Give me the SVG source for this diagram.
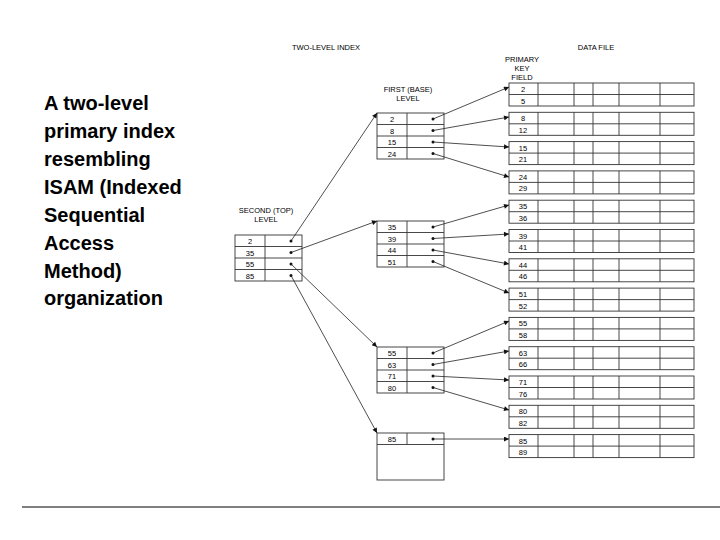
<svg xmlns="http://www.w3.org/2000/svg" xmlns:xlink="http://www.w3.org/1999/xlink" width="720" height="540" viewBox="0 0 720 540">
<style>
.t{font-family:"Liberation Sans",Arial,sans-serif;font-size:7.5px;fill:#000;text-anchor:middle}
.big{font-family:"Liberation Sans",Arial,sans-serif;font-size:20px;font-weight:bold;fill:#000}
.b{fill:#fff;stroke:#333;stroke-width:0.9}
.l{stroke:#333;stroke-width:0.9}
.c line{stroke:#222;stroke-width:0.8}
</style>
<defs>
<marker id="a" viewBox="0 0 10 10" refX="10" refY="5" markerWidth="7" markerHeight="5" orient="auto" markerUnits="userSpaceOnUse"><path d="M0,0L10,5L0,10z" fill="#111"/></marker>
<g id="db">
<rect class="b" x="509" y="0" width="185" height="23"/>
<line class="l" x1="509" y1="11.5" x2="694" y2="11.5"/>
<line class="l" x1="538" y1="0" x2="538" y2="23"/>
<line class="l" x1="574" y1="0" x2="574" y2="23"/>
<line class="l" x1="593" y1="0" x2="593" y2="23"/>
<line class="l" x1="619" y1="0" x2="619" y2="23"/>
<line class="l" x1="660" y1="0" x2="660" y2="23"/>
</g>
<g id="ib">
<rect class="b" x="0" y="0" width="67" height="46"/>
<line class="l" x1="0" y1="11.5" x2="67" y2="11.5"/>
<line class="l" x1="0" y1="23" x2="67" y2="23"/>
<line class="l" x1="0" y1="34.5" x2="67" y2="34.5"/>
<line class="l" x1="30" y1="0" x2="30" y2="46"/>
</g>
</defs>
<rect width="720" height="540" fill="#fff"/>
<g id="caption">
<text class="big" x="44" y="110">A two-level</text>
<text class="big" x="44" y="138">primary index</text>
<text class="big" x="44" y="166">resembling</text>
<text class="big" x="44" y="194">ISAM (Indexed</text>
<text class="big" x="44" y="222">Sequential</text>
<text class="big" x="44" y="250">Access</text>
<text class="big" x="44" y="278">Method)</text>
<text class="big" x="44" y="305">organization</text>
</g>
<line x1="22" y1="507" x2="720" y2="507" stroke="#000" stroke-width="1"/>
<g id="labels">
<text class="t" x="326" y="50">TWO-LEVEL INDEX</text>
<text class="t" x="596" y="50">DATA FILE</text>
<text class="t" x="522" y="62">PRIMARY</text>
<text class="t" x="522" y="71">KEY</text>
<text class="t" x="522" y="80">FIELD</text>
<text class="t" x="408" y="92">FIRST (BASE)</text>
<text class="t" x="408" y="101">LEVEL</text>
<text class="t" x="266" y="213">SECOND (TOP)</text>
<text class="t" x="266" y="222">LEVEL</text>
</g>
<g id="datafile" class="t">
<use xlink:href="#db" y="83"/><text x="523" y="92">2</text><text x="523" y="103.5">5</text>
<use xlink:href="#db" y="112.3"/><text x="523" y="121.3">8</text><text x="523" y="132.8">12</text>
<use xlink:href="#db" y="141.6"/><text x="523" y="150.6">15</text><text x="523" y="162.1">21</text>
<use xlink:href="#db" y="170.9"/><text x="523" y="179.9">24</text><text x="523" y="191.4">29</text>
<use xlink:href="#db" y="200.2"/><text x="523" y="209.2">35</text><text x="523" y="220.7">36</text>
<use xlink:href="#db" y="229.5"/><text x="523" y="238.5">39</text><text x="523" y="250">41</text>
<use xlink:href="#db" y="258.8"/><text x="523" y="267.8">44</text><text x="523" y="279.3">46</text>
<use xlink:href="#db" y="288.1"/><text x="523" y="297.1">51</text><text x="523" y="308.6">52</text>
<use xlink:href="#db" y="317.4"/><text x="523" y="326.4">55</text><text x="523" y="337.9">58</text>
<use xlink:href="#db" y="346.7"/><text x="523" y="355.7">63</text><text x="523" y="367.2">66</text>
<use xlink:href="#db" y="376"/><text x="523" y="385">71</text><text x="523" y="396.5">76</text>
<use xlink:href="#db" y="405.3"/><text x="523" y="414.3">80</text><text x="523" y="425.8">82</text>
<use xlink:href="#db" y="434.6"/><text x="523" y="443.6">85</text><text x="523" y="455.1">89</text>
</g>
<g id="second" class="t">
<use xlink:href="#ib" x="235" y="235"/>
<text x="250" y="244">2</text><text x="250" y="255.5">35</text><text x="250" y="267">55</text><text x="250" y="278.5">85</text>
</g>
<g id="firstA" class="t">
<use xlink:href="#ib" x="377" y="113"/>
<text x="392" y="122">2</text><text x="392" y="133.5">8</text><text x="392" y="145">15</text><text x="392" y="156.5">24</text>
</g>
<g id="firstB" class="t">
<use xlink:href="#ib" x="377" y="221"/>
<text x="392" y="230">35</text><text x="392" y="241.5">39</text><text x="392" y="253">44</text><text x="392" y="264.5">51</text>
</g>
<g id="firstC" class="t">
<use xlink:href="#ib" x="377" y="347"/>
<text x="392" y="356">55</text><text x="392" y="367.5">63</text><text x="392" y="379">71</text><text x="392" y="390.5">80</text>
</g>
<g id="firstD" class="t">
<rect class="b" x="377" y="433" width="67" height="47"/>
<line class="l" x1="377" y1="444.5" x2="444" y2="444.5"/>
<line class="l" x1="407" y1="433" x2="407" y2="444.5"/>
<text x="392" y="442">85</text>
</g>
<g id="connectors" class="c">
<g fill="#111">
<circle cx="291" cy="241" r="1.5"/><circle cx="291" cy="252.5" r="1.5"/><circle cx="291" cy="264" r="1.5"/><circle cx="291" cy="275.5" r="1.5"/>
<circle cx="433" cy="119" r="1.5"/><circle cx="433" cy="130.5" r="1.5"/><circle cx="433" cy="142" r="1.5"/><circle cx="433" cy="153.5" r="1.5"/>
<circle cx="433" cy="227" r="1.5"/><circle cx="433" cy="238.5" r="1.5"/><circle cx="433" cy="250" r="1.5"/><circle cx="433" cy="261.5" r="1.5"/>
<circle cx="433" cy="353" r="1.5"/><circle cx="433" cy="364.5" r="1.5"/><circle cx="433" cy="376" r="1.5"/><circle cx="433" cy="387.5" r="1.5"/>
<circle cx="433" cy="439" r="1.5"/>
</g>
<line x1="291" y1="241" x2="377" y2="113" marker-end="url(#a)"/>
<line x1="291" y1="252.5" x2="377" y2="221" marker-end="url(#a)"/>
<line x1="291" y1="264" x2="377" y2="347" marker-end="url(#a)"/>
<line x1="291" y1="275.5" x2="377" y2="433" marker-end="url(#a)"/>
<line x1="433" y1="119" x2="509" y2="87" marker-end="url(#a)"/>
<line x1="433" y1="130.5" x2="509" y2="117" marker-end="url(#a)"/>
<line x1="433" y1="142" x2="509" y2="147" marker-end="url(#a)"/>
<line x1="433" y1="153.5" x2="509" y2="177" marker-end="url(#a)"/>
<line x1="433" y1="227" x2="509" y2="205" marker-end="url(#a)"/>
<line x1="433" y1="238.5" x2="509" y2="234" marker-end="url(#a)"/>
<line x1="433" y1="250" x2="509" y2="264" marker-end="url(#a)"/>
<line x1="433" y1="261.5" x2="509" y2="293" marker-end="url(#a)"/>
<line x1="433" y1="353" x2="509" y2="321" marker-end="url(#a)"/>
<line x1="433" y1="364.5" x2="509" y2="351" marker-end="url(#a)"/>
<line x1="433" y1="376" x2="509" y2="380" marker-end="url(#a)"/>
<line x1="433" y1="387.5" x2="509" y2="410" marker-end="url(#a)"/>
<line x1="433" y1="439" x2="509" y2="439" marker-end="url(#a)"/>
</g>
</svg>
